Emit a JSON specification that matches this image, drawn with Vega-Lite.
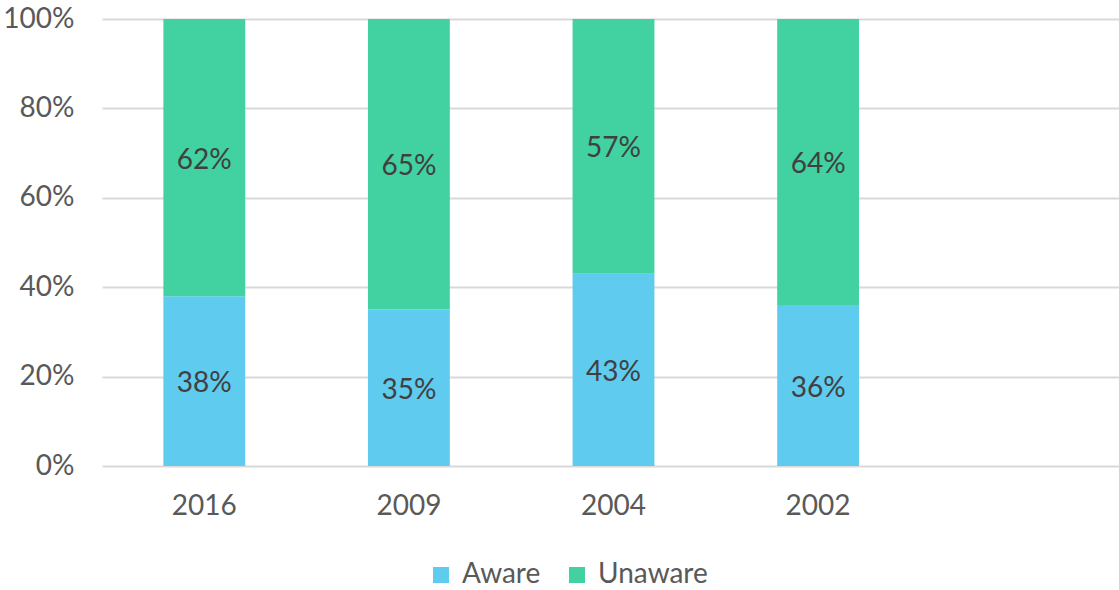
{
  "$schema": "https://vega.github.io/schema/vega-lite/v6.json",
  "autosize": "none",
  "padding": {"left": 102, "top": 19, "right": 0, "bottom": 124},
  "width": 1023,
  "height": 447,
  "background": "white",
  "config": {"view": {"stroke": null}},
  "title": {
    "text": "Knowledge of awareness across surveys",
    "anchor": "middle",
    "frame": "group",
    "baseline": "alphabetic",
    "offset": 0,
    "dy": 20,
    "dx": 27,
    "font": "Lato",
    "fontSize": 36,
    "fontWeight": "normal",
    "color": "#595959"
  },
  "data": {
    "values": [
      {"year": "2016", "status": "Aware", "value": 0.38},
      {"year": "2016", "status": "Unaware", "value": 0.62},
      {"year": "2009", "status": "Aware", "value": 0.35},
      {"year": "2009", "status": "Unaware", "value": 0.65},
      {"year": "2004", "status": "Aware", "value": 0.43},
      {"year": "2004", "status": "Unaware", "value": 0.57},
      {"year": "2002", "status": "Aware", "value": 0.36},
      {"year": "2002", "status": "Unaware", "value": 0.64}
    ]
  },
  "encoding": {
    "x": {
      "field": "year",
      "type": "nominal",
      "sort": null,
      "scale": {"domain": ["2016", "2009", "2004", "2002", " "], "paddingInner": 0.6, "paddingOuter": 0.3},
      "axis": {
        "title": null,
        "labelAngle": 0,
        "domain": false,
        "ticks": false,
        "labelPadding": 26,
        "labelFont": "Lato",
        "labelFontSize": 28,
        "labelColor": "#595959"
      }
    },
    "y": {
      "field": "value",
      "type": "quantitative",
      "stack": "zero",
      "scale": {"domain": [0, 1], "nice": false},
      "axis": {
        "title": null,
        "format": "%",
        "values": [0, 0.2, 0.4, 0.6, 0.8, 1],
        "domain": false,
        "ticks": false,
        "labelPadding": 28,
        "labelFont": "Lato",
        "labelFontSize": 28,
        "labelColor": "#595959",
        "gridColor": "#d9d9d9",
        "gridWidth": 2
      }
    }
  },
  "layer": [
    {
      "mark": {"type": "bar"},
      "encoding": {
        "color": {
          "field": "status",
          "type": "nominal",
          "scale": {"domain": ["Aware", "Unaware"], "range": ["#5ecbef", "#42d1a1"]},
          "legend": {
            "title": null,
            "orient": "none",
            "direction": "horizontal",
            "legendX": 325,
            "legendY": 542,
            "symbolType": "square",
            "symbolSize": 256,
            "symbolStrokeWidth": 0,
            "labelFont": "Lato",
            "labelFontSize": 28,
            "labelColor": "#595959",
            "labelOffset": 7,
            "columnPadding": 22
          }
        },
        "order": {"field": "status", "sort": "ascending"}
      }
    },
    {
      "mark": {"type": "text", "font": "Lato", "fontSize": 28, "color": "#404040", "dy": 3},
      "encoding": {
        "y": {"field": "value", "type": "quantitative", "stack": "zero", "bandPosition": 0.5},
        "text": {"field": "value", "type": "quantitative", "format": ".0%"},
        "detail": {"field": "status"},
        "order": {"field": "status", "sort": "ascending"}
      }
    }
  ]
}
